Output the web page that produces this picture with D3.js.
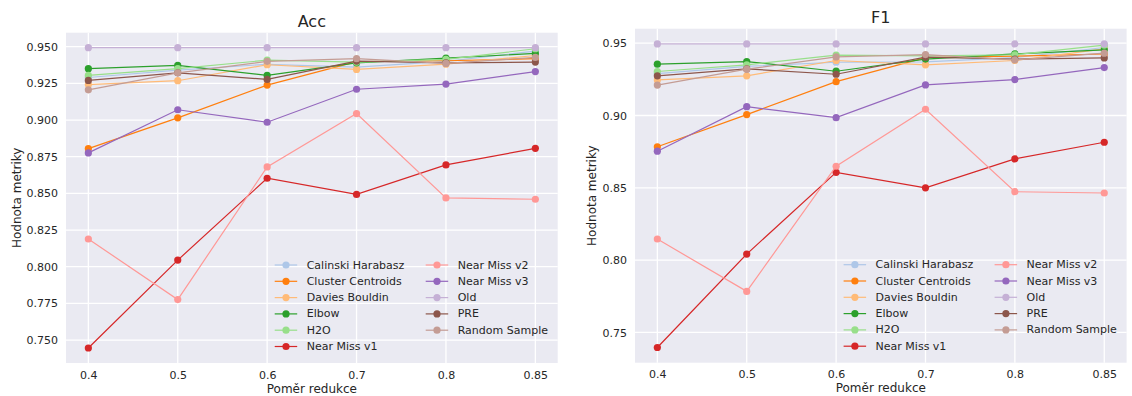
<!DOCTYPE html>
<html>
<head>
<meta charset="utf-8">
<script src="https://cdn.jsdelivr.net/npm/d3@7/dist/d3.min.js"></script>
<style>
  html, body { margin: 0; padding: 0; background: #ffffff; }
  svg { display: block; }
  text { font-family: "DejaVu Sans", sans-serif; fill: #262626; }
</style>
</head>
<body>
<svg id="chart" width="1132" height="396"></svg>
<script>
// ---------- data ----------
const ratios = ["0.4", "0.5", "0.6", "0.7", "0.8", "0.85"];
const methods = ["Calinski Harabasz", "Cluster Centroids", "Davies Bouldin", "Elbow", "H2O",
  "Near Miss v1", "Near Miss v2", "Near Miss v3", "Old", "PRE", "Random Sample"];
const colors = ["#aec7e8", "#ff7f0e", "#ffbb78", "#2ca02c", "#98df8a",
  "#d62728", "#ff9896", "#9467bd", "#c5b0d5", "#8c564b", "#c49c94"];

// Accuracy
const accCalinskiHarabasz = [0.929, 0.934, 0.938, 0.936, 0.940, 0.947];
const accClusterCentroids = [0.8805, 0.9015, 0.9238, 0.9398, 0.9404, 0.9418];
const accDaviesBouldin    = [0.9242, 0.9268, 0.9377, 0.9345, 0.9381, 0.944];
const accElbow            = [0.935, 0.9372, 0.9304, 0.939, 0.9422, 0.9454];
const accH2O              = [0.9304, 0.935, 0.9408, 0.9395, 0.9413, 0.9486];
const accNearMissV1       = [0.7446, 0.8045, 0.8603, 0.8493, 0.8694, 0.8807];
const accNearMissV2       = [0.8189, 0.7776, 0.868, 0.9044, 0.8469, 0.846];
const accNearMissV3       = [0.8776, 0.907, 0.8985, 0.921, 0.9245, 0.933];
const accOld              = [0.9493, 0.9493, 0.9493, 0.9493, 0.9493, 0.9493];
const accPRE              = [0.927, 0.9322, 0.9277, 0.9402, 0.939, 0.9395];
const accRandomSample     = [0.9206, 0.9322, 0.940, 0.9418, 0.9386, 0.9427];

// F1
const f1CalinskiHarabasz = [0.929, 0.934, 0.9368, 0.937, 0.940, 0.947];
const f1ClusterCentroids = [0.8784, 0.9006, 0.9234, 0.940, 0.941, 0.9425];
const f1DaviesBouldin    = [0.9246, 0.9274, 0.938, 0.935, 0.938, 0.946];
const f1Elbow            = [0.9355, 0.9373, 0.9306, 0.939, 0.9426, 0.9454];
const f1H2O              = [0.9304, 0.935, 0.9417, 0.9412, 0.942, 0.9486];
const f1NearMissV1       = [0.7396, 0.8042, 0.8607, 0.850, 0.870, 0.8815];
const f1NearMissV2       = [0.8146, 0.7784, 0.8649, 0.9043, 0.8473, 0.8464];
const f1NearMissV3       = [0.8753, 0.9061, 0.8985, 0.9211, 0.9248, 0.9331];
const f1Old              = [0.9495, 0.9495, 0.9495, 0.9495, 0.9495, 0.9495];
const f1PRE              = [0.9274, 0.9322, 0.9285, 0.9403, 0.939, 0.9398];
const f1RandomSample     = [0.921, 0.932, 0.9405, 0.9421, 0.9384, 0.9431];

const accTicks = [0.750, 0.775, 0.800, 0.825, 0.850, 0.875, 0.900, 0.925, 0.950];
const f1Ticks = [0.75, 0.80, 0.85, 0.90, 0.95];

const accSeries = [accCalinskiHarabasz, accClusterCentroids, accDaviesBouldin, accElbow, accH2O,
  accNearMissV1, accNearMissV2, accNearMissV3, accOld, accPRE, accRandomSample];
const f1Series = [f1CalinskiHarabasz, f1ClusterCentroids, f1DaviesBouldin, f1Elbow, f1H2O,
  f1NearMissV1, f1NearMissV2, f1NearMissV3, f1Old, f1PRE, f1RandomSample];

// ---------- drawing ----------
const svg = d3.select("#chart");

function panel(cfg) {
  const { left, right, top, bottom, title, series, ticks, fmt } = cfg;
  const g = svg.append("g");
  const all = series.flat();
  const mn = d3.min(all), mx = d3.max(all), pad = (mx - mn) * 0.05;
  const x = d3.scalePoint().domain(ratios).range([left, right]).padding(0.25);
  const y = d3.scaleLinear().domain([mn - pad, mx + pad]).range([bottom, top]);

  g.append("rect").attr("x", left).attr("y", top)
    .attr("width", right - left).attr("height", bottom - top).attr("fill", "#eaeaf2");

  // grid
  g.append("g").selectAll("line").data(ticks).join("line")
    .attr("x1", left).attr("x2", right)
    .attr("y1", d => y(d)).attr("y2", d => y(d))
    .attr("stroke", "#ffffff").attr("stroke-width", 1.3);
  g.append("g").selectAll("line").data(ratios).join("line")
    .attr("x1", d => x(d)).attr("x2", d => x(d))
    .attr("y1", top).attr("y2", bottom)
    .attr("stroke", "#ffffff").attr("stroke-width", 1.3);

  // axes (tick labels only)
  const ya = g.append("g").attr("transform", `translate(${left},0)`)
    .call(d3.axisLeft(y).tickValues(ticks).tickFormat(d3.format(fmt)).tickSize(0).tickPadding(8));
  ya.select(".domain").remove();
  ya.selectAll("text").attr("font-size", 11).attr("fill", "#262626")
    .style("font-family", "DejaVu Sans");
  const xa = g.append("g").attr("transform", `translate(0,${bottom})`)
    .call(d3.axisBottom(x).tickSize(0).tickPadding(8));
  xa.select(".domain").remove();
  xa.selectAll("text").attr("font-size", 11).attr("fill", "#262626")
    .style("font-family", "DejaVu Sans");

  // lines + markers
  const line = d3.line().x((d, i) => x(ratios[i])).y(d => y(d));
  series.forEach((vals, k) => {
    const s = g.append("g");
    s.append("path").attr("d", line(vals)).attr("fill", "none")
      .attr("stroke", colors[k]).attr("stroke-width", 1.2);
    s.selectAll("circle").data(vals).join("circle")
      .attr("cx", (d, i) => x(ratios[i])).attr("cy", d => y(d))
      .attr("r", 3.6).attr("fill", colors[k]);
  });

  // title & labels
  g.append("text").attr("x", (left + right) / 2).attr("y", top - 6)
    .attr("text-anchor", "middle").attr("font-size", 16).text(title);
  g.append("text").attr("x", (left + right) / 2).attr("y", bottom + 29.5)
    .attr("text-anchor", "middle").attr("font-size", 12).text("Poměr redukce");
  g.append("text")
    .attr("transform", `translate(${cfg.ylabelX},${(top + bottom) / 2}) rotate(-90)`)
    .attr("text-anchor", "middle").attr("dominant-baseline", "central")
    .attr("font-size", 12).text("Hodnota metriky");

  // legend
  const lg = g.append("g");
  const rowH = 16.3;
  const nRows = 6;
  methods.forEach((m, k) => {
    const col = Math.floor(k / nRows), row = k % nRows;
    const tx = col === 0 ? right - 251 : right - 100;
    const ty = bottom - 16.5 - (nRows - 1 - row) * rowH;
    lg.append("line").attr("x1", tx - 32).attr("x2", tx - 9.5)
      .attr("y1", ty).attr("y2", ty)
      .attr("stroke", colors[k]).attr("stroke-width", 1.2);
    lg.append("circle").attr("cx", tx - 20.7).attr("cy", ty).attr("r", 3.6).attr("fill", colors[k]);
    lg.append("text").attr("x", tx).attr("y", ty).attr("dominant-baseline", "central")
      .attr("font-size", 11).text(m);
  });
}

panel({ left: 66, right: 557.7, top: 32.7, bottom: 363, title: "Acc",
  series: accSeries, ticks: accTicks, fmt: ".3f", ylabelX: 17 });
panel({ left: 635, right: 1126.6, top: 28.7, bottom: 362.7, title: "F1",
  series: f1Series, ticks: f1Ticks, fmt: ".2f", ylabelX: 592 });
</script>
</body>
</html>
